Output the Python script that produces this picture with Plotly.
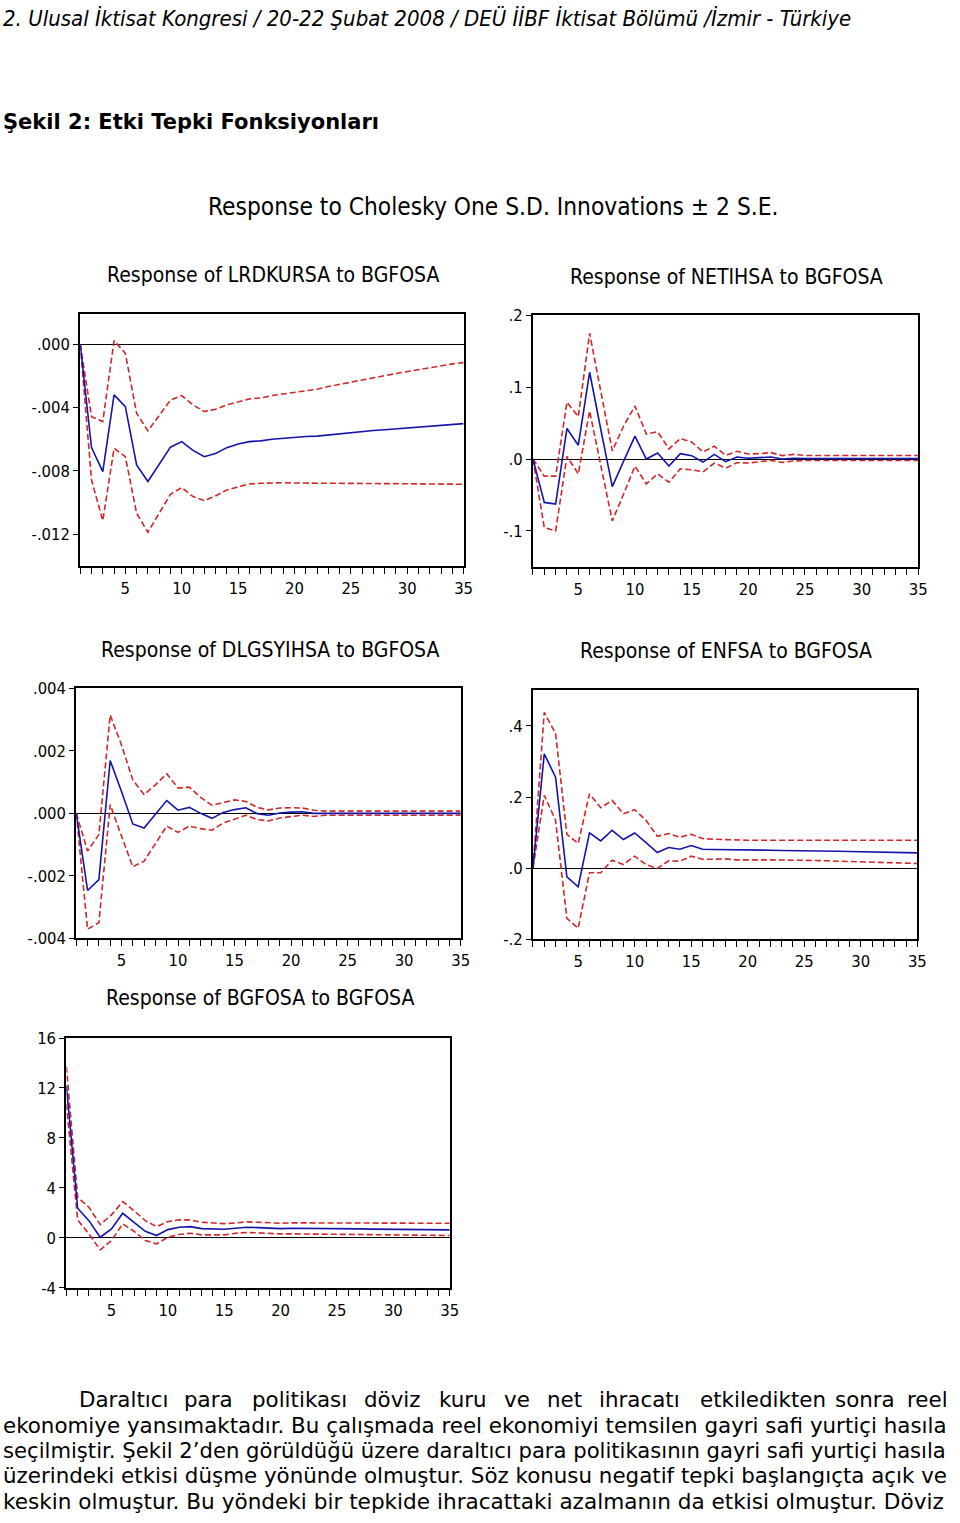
import plotly.graph_objects as go

W, H = 960, 1523
periods = list(range(1, 36))

# ---- Response of LRDKURSA to BGFOSA
lrd_resp = [0, -0.00653, -0.00804, -0.0032, -0.00394, -0.00762, -0.00867, -0.0076, -0.0065, -0.00615,
            -0.0067, -0.0071, -0.0069, -0.00653, -0.0063, -0.00615, -0.0061, -0.0060, -0.00594, -0.00587,
            -0.00583, -0.0058, -0.00573, -0.00564, -0.00556, -0.0055, -0.00545, -0.0054, -0.00535, -0.00528,
            -0.00522, -0.00518, -0.00514, -0.00507, -0.00501]
lrd_up = [0, -0.00457, -0.00488, 0.00023, -0.00057, -0.00436, -0.00547, -0.00446, -0.00352, -0.00324,
          -0.00383, -0.00425, -0.0041, -0.00383, -0.00362, -0.00345, -0.00339, -0.00324, -0.00314, -0.00303,
          -0.00293, -0.00284, -0.00267, -0.00253, -0.00238, -0.00225, -0.00213, -0.0020, -0.00185, -0.00173,
          -0.0016, -0.00147, -0.00135, -0.00124, -0.00116]
lrd_lo = [0, -0.00857, -0.01114, -0.00657, -0.0071, -0.01067, -0.01187, -0.01067, -0.00947, -0.00905,
          -0.00962, -0.00987, -0.00958, -0.0092, -0.00899, -0.00882, -0.00878, -0.00874, -0.00874, -0.00876,
          -0.00878, -0.00878, -0.00878, -0.00878, -0.00878, -0.00878, -0.00879, -0.0088, -0.0088, -0.0088,
          -0.00881, -0.00882, -0.00883, -0.00884, -0.00884]

# ---- Response of NETIHSA to BGFOSA
net_resp = [0, -0.0603, -0.0626, 0.0425, 0.0192, 0.1206, 0.040, -0.0383, -0.003, 0.0318,
            0.0, 0.0084, -0.0098, 0.0075, 0.0047, -0.0042, 0.0065, -0.0037, 0.0028, 0.001,
            0.0019, 0.0028, 0.0, 0.001, 0.0005, 0.0005, 0.0005, 0.0005, 0.0005, 0.0005,
            0.0005, 0.0005, 0.0005, 0.0005, 0.0005]
net_up = [0, -0.0238, -0.0238, 0.079, 0.0589, 0.1748, 0.093, 0.0112, 0.0458, 0.0738,
          0.0346, 0.0379, 0.014, 0.0285, 0.0238, 0.0098, 0.0178, 0.0051, 0.0107, 0.007,
          0.0075, 0.0089, 0.0047, 0.0065, 0.005, 0.005, 0.005, 0.005, 0.005, 0.005,
          0.005, 0.005, 0.005, 0.005, 0.005]
net_lo = [0, -0.0953, -0.1, 0.0037, -0.0206, 0.0668, -0.0098, -0.086, -0.0486, -0.0098,
          -0.0346, -0.0206, -0.0322, -0.0136, -0.015, -0.0178, -0.0056, -0.0126, -0.0051, -0.0056,
          -0.0037, -0.0019, -0.0047, -0.0028, -0.002, -0.002, -0.002, -0.002, -0.002, -0.002,
          -0.002, -0.002, -0.002, -0.002, -0.002]

# ---- Response of DLGSYIHSA to BGFOSA
dlg_resp = [0, -0.00247, -0.00212, 0.00169, 0.0007, -0.00034, -0.00047, -0.00002, 0.00041, 0.0001,
            0.00019, 0.0, -0.00016, 0.00003, 0.00012, 0.00018, -0.00001, -0.00006, 0.00001, 0.00004,
            0.00005, 0.0, 0.0, 0.0, 0.0, 0.0, 0.0, 0.0, 0.0, 0.0,
            0.0, 0.0, 0.0, 0.0, 0.0]
dlg_up = [0, -0.00121, -0.00068, 0.00315, 0.00219, 0.00107, 0.0006, 0.00091, 0.00127, 0.00081,
          0.00084, 0.00051, 0.00026, 0.00035, 0.00043, 0.00038, 0.00019, 0.00011, 0.00017, 0.00018,
          0.00017, 0.0001, 0.00007, 0.00007, 0.00007, 0.00007, 0.00007, 0.00007, 0.00007, 0.00007,
          0.00007, 0.00007, 0.00007, 0.00007, 0.00007]
dlg_lo = [0, -0.00371, -0.0035, 0.00028, -0.00073, -0.00171, -0.00153, -0.00098, -0.00041, -0.00061,
          -0.00041, -0.00049, -0.00054, -0.00031, -0.00018, -0.00006, -0.0002, -0.00024, -0.00015, -0.00011,
          -0.00006, -0.0001, -0.00006, -0.00006, -0.00006, -0.00006, -0.00006, -0.00006, -0.00006, -0.00006,
          -0.00006, -0.00006, -0.00006, -0.00006, -0.00006]

# ---- Response of ENFSA to BGFOSA
enf_resp = [0, 0.3215, 0.256, -0.0243, -0.0523, 0.099, 0.0766, 0.1065, 0.0804, 0.099,
            0.072, 0.0439, 0.058, 0.0533, 0.0636, 0.0533, 0.0523, 0.0523, 0.0505, 0.0514,
            0.0505, 0.0505, 0.0495, 0.0495, 0.0486, 0.0486, 0.0477, 0.0477, 0.0467, 0.0458,
            0.0458, 0.0449, 0.0449, 0.044, 0.043]
enf_up = [0, 0.438, 0.379, 0.0953, 0.0692, 0.209, 0.170, 0.1907, 0.153, 0.1645,
          0.1346, 0.0897, 0.0972, 0.0869, 0.0953, 0.0832, 0.0813, 0.0804, 0.0776, 0.0785,
          0.0785, 0.0785, 0.0785, 0.0785, 0.0785, 0.0785, 0.0785, 0.0785, 0.0785, 0.0785,
          0.0785, 0.0785, 0.0785, 0.0785, 0.0785]
enf_lo = [0, 0.2047, 0.1346, -0.141, -0.169, -0.0131, -0.0131, 0.0224, 0.0103, 0.0336,
          0.0103, -0.0009, 0.0206, 0.0196, 0.0336, 0.0252, 0.0252, 0.0262, 0.0234, 0.0243,
          0.0234, 0.0234, 0.0224, 0.0224, 0.0215, 0.0215, 0.0206, 0.0196, 0.0187, 0.0178,
          0.0168, 0.0159, 0.015, 0.014, 0.0131]

# ---- Response of BGFOSA to BGFOSA
bgf_resp = [12.2, 2.37, 1.38, 0.05, 0.72, 1.97, 1.25, 0.53, 0.19, 0.66,
            0.85, 0.9, 0.74, 0.72, 0.69, 0.77, 0.85, 0.82, 0.77, 0.74,
            0.77, 0.77, 0.74, 0.74, 0.72, 0.72, 0.72, 0.7, 0.69, 0.69,
            0.68, 0.67, 0.66, 0.65, 0.64]
bgf_up = [13.7, 3.24, 2.45, 1.06, 1.84, 2.9, 2.18, 1.38, 0.9, 1.3,
          1.44, 1.44, 1.25, 1.17, 1.14, 1.2, 1.28, 1.25, 1.2, 1.17,
          1.2, 1.2, 1.2, 1.17, 1.17, 1.17, 1.17, 1.17, 1.17, 1.17,
          1.17, 1.17, 1.17, 1.17, 1.17]
bgf_lo = [10.7, 1.44, 0.32, -0.96, -0.21, 1.12, 0.53, -0.21, -0.48, 0.05,
          0.27, 0.37, 0.24, 0.24, 0.24, 0.37, 0.43, 0.4, 0.35, 0.32,
          0.32, 0.32, 0.3, 0.3, 0.29, 0.28, 0.27, 0.26, 0.25, 0.24,
          0.23, 0.22, 0.21, 0.2, 0.19]

panel_titles = ["Response of LRDKURSA to BGFOSA", "Response of NETIHSA to BGFOSA",
                "Response of DLGSYIHSA to BGFOSA", "Response of ENFSA to BGFOSA",
                "Response of BGFOSA to BGFOSA"]
y_ranges = [[-0.014, 0.0019], [-0.15, 0.2], [-0.004, 0.004], [-0.2, 0.5], [-4, 16]]
y_tickvals = [[0, -0.004, -0.008, -0.012], [-0.1, 0, 0.1, 0.2],
              [-0.004, -0.002, 0, 0.002, 0.004], [-0.2, 0, 0.2, 0.4], [-4, 0, 4, 8, 12, 16]]
y_ticktext = [[".000", "-.004", "-.008", "-.012"], ["-.1", ".0", ".1", ".2"],
              ["-.004", "-.002", ".000", ".002", ".004"], ["-.2", ".0", ".2", ".4"],
              ["-4", "0", "4", "8", "12", "16"]]
series = [(lrd_resp, lrd_up, lrd_lo), (net_resp, net_up, net_lo), (dlg_resp, dlg_up, dlg_lo),
          (enf_resp, enf_up, enf_lo), (bgf_resp, bgf_up, bgf_lo)]

# plot boxes in pixels: left, right, top, bottom
boxes = [(81, 468, 309, 564), (538, 927, 310, 565), (77, 465, 688, 941),
         (538, 926, 690, 942), (67, 454, 1042, 1295)]
title_pos = [(276, 269), (733, 271), (273, 649), (733, 650), (262, 1002)]

NARROW = "Liberation Sans Narrow, Arial Narrow, DejaVu Sans Condensed, sans-serif"
BLUE = "#1414A8"
RED = "#D02828"

fig = go.Figure()
layout = dict(width=W, height=H, margin=dict(l=0, r=0, t=0, b=0),
              paper_bgcolor="white", plot_bgcolor="white", showlegend=False)

for i, (resp, up, lo) in enumerate(series):
    n = i + 1
    xa = "x" if n == 1 else f"x{n}"
    ya = "y" if n == 1 else f"y{n}"
    for vals, col, dash in ((up, RED, "6px,3px"), (lo, RED, "6px,3px"), (resp, BLUE, "solid")):
        fig.add_trace(go.Scatter(x=periods, y=vals, mode="lines", xaxis=xa, yaxis=ya,
                                 line=dict(color=col, width=1.6, dash=dash), hoverinfo="skip"))
    l, r, t, b = boxes[i]
    layout["xaxis" if n == 1 else f"xaxis{n}"] = dict(
        domain=[l / W, r / W], anchor=ya, range=[1, 35], tick0=5, dtick=5,
        ticks="outside", ticklen=6, tickwidth=1, tickcolor="black",
        minor=dict(dtick=1, tick0=1, ticks="outside", ticklen=6, tickwidth=1, tickcolor="black"),
        showline=True, linecolor="black", linewidth=2, mirror=True, showgrid=False, zeroline=False,
        tickfont=dict(family=NARROW, size=16.5, color="black"))
    layout["yaxis" if n == 1 else f"yaxis{n}"] = dict(
        domain=[1 - b / H, 1 - t / H], anchor=xa, range=y_ranges[i],
        tickvals=y_tickvals[i], ticktext=y_ticktext[i],
        ticks="outside", ticklen=5, tickwidth=1, tickcolor="black",
        showline=True, linecolor="black", linewidth=2, mirror=True, showgrid=False,
        zeroline=True, zerolinecolor="black", zerolinewidth=1,
        tickfont=dict(family=NARROW, size=16.5, color="black"))

annotations = []
annotations.append(dict(text="Response to Cholesky One S.D. Innovations ± 2 S.E.", x=498 / W, y=1 - 200 / H,
                        xref="paper", yref="paper", showarrow=False, xanchor="center", yanchor="middle",
                        font=dict(family=NARROW, size=24.3, color="black")))
for (cx, cy), ttl in zip(title_pos, panel_titles):
    annotations.append(dict(text=ttl, x=cx / W, y=1 - cy / H, xref="paper", yref="paper", showarrow=False,
                            xanchor="center", yanchor="middle",
                            font=dict(family=NARROW, size=21, color="black")))

header = "2. Ulusal İktisat Kongresi / 20-22 Şubat 2008 / DEÜ İİBF İktisat Bölümü /İzmir - Türkiye"
annotations.append(dict(text=f"<i>{header}</i>", x=1 / W, y=1 - 10 / H, xref="paper", yref="paper",
                        showarrow=False, xanchor="left", yanchor="middle",
                        font=dict(family="DejaVu Sans Condensed, DejaVu Sans", size=22, color="black")))
annotations.append(dict(text="<b>Şekil 2: Etki Tepki Fonksiyonları</b>", x=1 / W, y=1 - 114 / H,
                        xref="paper", yref="paper", showarrow=False, xanchor="left", yanchor="middle",
                        font=dict(family="DejaVu Sans", size=21, color="black")))

PARA = "DejaVu Sans, Verdana, sans-serif"
line1_words = ["Daraltıcı", "para", "politikası", "döviz", "kuru", "ve", "net", "ihracatı",
               "etkiledikten", "sonra", "reel"]
line1_x = [78, 184, 252, 365, 441, 507, 550, 603, 705, 841, 914]
for wd, wx in zip(line1_words, line1_x):
    annotations.append(dict(text=wd, x=wx / W, y=1 - 1408.5 / H, xref="paper", yref="paper", showarrow=False,
                            xanchor="left", yanchor="middle", font=dict(family=PARA, size=21.4, color="black")))
other_lines = ["ekonomiye yansımaktadır. Bu çalışmada reel ekonomiyi temsilen gayri safi yurtiçi hasıla",
               "seçilmiştir. Şekil 2’den görüldüğü üzere daraltıcı para politikasının gayri safi yurtiçi hasıla",
               "üzerindeki etkisi düşme yönünde olmuştur. Söz konusu negatif tepki başlangıçta açık ve",
               "keskin olmuştur. Bu yöndeki bir tepkide ihracattaki azalmanın da etkisi olmuştur. Döviz"]
line_sizes = [21.4, 21.15, 21.4, 21.6]
line_y = [1434, 1459.5, 1485.3, 1511]
for txt, ly, fs in zip(other_lines, line_y, line_sizes):
    annotations.append(dict(text=txt, x=1 / W, y=1 - ly / H, xref="paper", yref="paper", showarrow=False,
                            xanchor="left", yanchor="middle", font=dict(family=PARA, size=fs, color="black")))

layout["annotations"] = annotations
fig.update_layout(**layout)
fig.write_html("out.html", config={"displayModeBar": False},
               post_script="document.body.style.margin='0';")
